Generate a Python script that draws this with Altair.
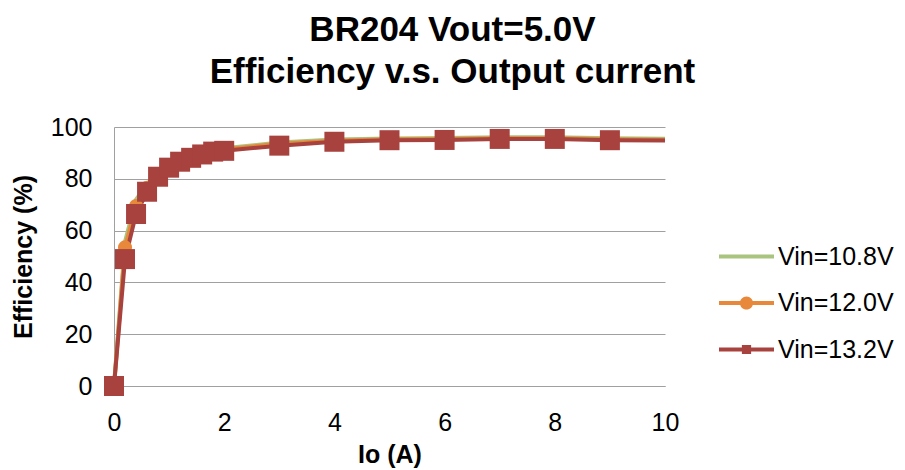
import altair as alt
import pandas as pd

io = [0, 0.2, 0.4, 0.6, 0.8, 1.0, 1.2, 1.4, 1.6, 1.8, 2.0, 3, 4, 5, 6, 7, 8, 9, 10]
eff_108 = [0, 55.8, 72.0, 78.0, 82.5, 85.5, 87.8, 89.2, 90.3, 91.2, 91.8, 94.0, 95.2, 95.6, 95.8, 96.0, 96.0, 95.7, 95.5]
eff_120 = [0, 53.5, 69.5, 76.5, 81.8, 85.0, 87.2, 88.7, 89.9, 91.0, 91.4, 93.5, 94.7, 95.3, 95.4, 95.7, 95.7, 95.3, 95.1]
eff_132 = [0, 49.0, 66.4, 75.0, 80.8, 84.3, 86.6, 88.1, 89.4, 90.5, 90.8, 92.8, 94.3, 94.9, 95.0, 95.4, 95.4, 94.9, 94.8]

names = ["Vin=10.8V", "Vin=12.0V", "Vin=13.2V"]
colors = ["#A9C47F", "#E8883A", "#A8423E"]

rows = []
for name, vals in zip(names, [eff_108, eff_120, eff_132]):
    for x, y in zip(io, vals):
        rows.append({"io": x, "eff": y, "series": name})
df = pd.DataFrame(rows)

FONT = "Liberation Sans"

xenc = alt.X("io:Q", scale=alt.Scale(domain=[0, 10], nice=False),
             axis=alt.Axis(values=[0, 2, 4, 6, 8, 10], title="Io (A)", grid=False, labelFlush=False))
yenc = alt.Y("eff:Q", scale=alt.Scale(domain=[0, 100], nice=False),
             axis=alt.Axis(values=[0, 20, 40, 60, 80, 100], title="Efficiency (%)", labelFlush=False))

base = alt.Chart(df)

layers = []
for name, col in zip(names, colors):
    layers.append(
        base.transform_filter(alt.datum.series == name)
        .mark_line(color=col, strokeWidth=4)
        .encode(x=xenc, y=yenc)
    )

circles = (base.transform_filter((alt.datum.series == names[1]) & (alt.datum.io <= 9))
           .mark_circle(color=colors[1], size=200, opacity=1)
           .encode(x=xenc, y=yenc))
squares = (base.transform_filter((alt.datum.series == names[2]) & (alt.datum.io <= 9))
           .mark_square(color=colors[2], size=400, opacity=1)
           .encode(x=xenc, y=yenc))

paths = [
    "M-2.5,-0.18H2.5V0.18H-2.5Z",
    "M-2.5,-0.18H-0.5V0.18H-2.5Z M0.5,-0.18H2.5V0.18H0.5Z M0.6,0A0.6,0.6 0 1,1 -0.6,0A0.6,0.6 0 1,1 0.6,0Z",
    "M-2.5,-0.18H-0.4V0.18H-2.5Z M0.4,-0.18H2.5V0.18H0.4Z M-0.42,-0.42H0.42V0.42H-0.42Z",
]

legend_layer = (base.transform_filter("false")
                .mark_point(filled=True, opacity=1, strokeWidth=0)
                .encode(
                    x=xenc, y=yenc,
                    color=alt.Color("series:N", scale=alt.Scale(domain=names, range=colors),
                                    legend=alt.Legend(title=None, orient="none", legendX=620, legendY=117,
                                                      symbolSize=484, labelOffset=19, rowPadding=20.5,
                                                      padding=0, labelFontSize=25, labelFont=FONT,
                                                      labelColor="black", symbolStrokeWidth=0,
                                                      symbolOpacity=1, labelLimit=300)),
                    shape=alt.Shape("series:N", scale=alt.Scale(domain=names, range=paths)),
                ))

chart = alt.layer(*layers, circles, squares, legend_layer).properties(
    width=551, height=259,
    autosize=alt.AutoSizeParams(type="none"),
    padding={"left": 106, "top": 119, "right": 232, "bottom": 84},
    title=alt.TitleParams(
        text=["BR204 Vout=5.0V", "Efficiency v.s. Output current"],
        font=FONT, fontSize=35, fontWeight="bold", color="black",
        anchor="middle", dx=63, offset=-10, lineHeight=42, baseline="bottom",
    ),
).configure_view(stroke=None).configure_axis(
    labelFont=FONT, labelFontSize=25, labelColor="black",
    titleFont=FONT, titleFontSize=25, titleFontWeight="bold", titleColor="black",
    gridColor="#A0A0A0", gridWidth=1, domainColor="#A0A0A0", domainWidth=1,
    ticks=False,
).configure_axisX(labelPadding=24, titlePadding=7).configure_axisY(labelPadding=22, titlePadding=14)

chart.save("out.html", embed_options={"renderer": "svg", "actions": False})
